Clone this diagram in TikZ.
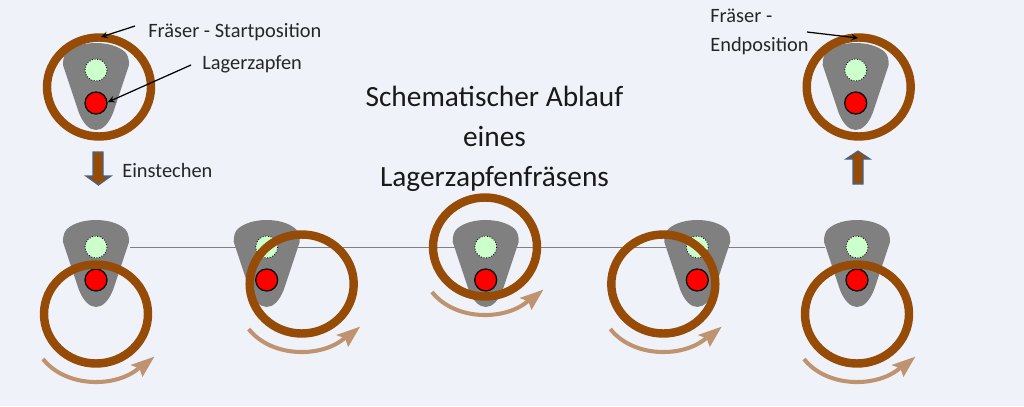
\documentclass[tikz,border=0pt]{standalone}
\usepackage{fontspec}
\setmainfont{Carlito}
\usepackage{tikz}
\definecolor{grund}{HTML}{EFF3F9}
\definecolor{ringbraun}{HTML}{964B06}
\definecolor{drehbraun}{HTML}{BF9270}
\definecolor{pfeilblau}{HTML}{44658F}
\tikzset{
	fraeser/.style={draw=ringbraun, line width=4.8pt},
	hebel/.style={fill=black!50},
	bohrung/.style={fill=green!20, draw=black, densely dotted, line width=0.5pt},
	zapfen/.style={fill=red, draw=black, line width=0.7pt},
	drehpfeil/.style={draw=drehbraun, line width=2.3pt},
	zeiger/.style={draw=black, line width=0.7pt, -stealth},
	hubpfeil/.style={fill=ringbraun, draw=pfeilblau, line width=0.7pt},
	beschriftung/.style={anchor=west, font=\fontsize{11.6}{13.6}\selectfont, text=black!85, inner sep=0pt},
	titel/.style={font=\fontsize{16.7}{20}\selectfont, text=black!90, inner sep=0pt}
}
\def\hebelform(#1,#2){\fill[hebel] (#1-29, #2-51) .. controls (#1-16, #2-63) and (#1+16, #2-63) .. (#1+29, #2-51) .. controls (#1+32, #2-48) and (#1+33, #2-44) .. (#1+33, #2-38) -- (#1+17, #2+10) .. controls (#1+13, #2+20) and (#1+7, #2+27) .. (#1, #2+27) .. controls (#1-7, #2+27) and (#1-13, #2+20) .. (#1-17, #2+10) -- (#1-33, #2-38) .. controls (#1-33, #2-44) and (#1-32, #2-48) .. (#1-29, #2-51) -- cycle;
	\draw[bohrung] (#1, #2-33) circle (11);
	\draw[zapfen] (#1, #2) circle (11);}
\def\drehung(#1,#2){\draw[drehpfeil] (#1-53, #2+45) .. controls (#1-30, #2+74) and (#1+20, #2+74) .. (#1+43, #2+54);
	\fill[drehbraun] (#1+58.3, #2+42.7) -- (#1+34.5, #2+51) -- (#1+43.3, #2+54.3) -- (#1+46.5, #2+63) -- cycle;}

\begin{document}
\begin{tikzpicture}[x=0.02cm, y=-0.02cm]
			%%%%% START %%%%%
			\fill[grund] (0, 0) rectangle (1024, 406);
			\useasboundingbox (0, 0) rectangle (1024, 406);
			
			\draw[black!50, line width=0.3pt] (130, 247) -- (825, 247);
			
			\hebelform(96, 103);
			\hebelform(855.7, 103);
			\hebelform(96, 280);
			\hebelform(266.7, 280);
			\hebelform(485.7, 280);
			\hebelform(697.3, 280);
			\hebelform(857, 280);
			
			\draw[fraeser] (99, 87) circle (52 and 49.5);
			\draw[fraeser] (858.7, 87) circle (52 and 49.5);
			\draw[fraeser] (96, 314) circle (52 and 49.5);
			\draw[fraeser] (301.7, 284) circle (52 and 49.5);
			\draw[fraeser] (485, 247) circle (52 and 49.5);
			\draw[fraeser] (663.3, 284) circle (52 and 49.5);
			\draw[fraeser] (857, 314) circle (52 and 49.5);
			
			\drehung(96, 314);
			\drehung(301.7, 284);
			\drehung(485, 247);
			\drehung(663.3, 284);
			\drehung(857, 314);
			
			% Hubpfeile
			\draw[hubpfeil] (93, 152) -- (103, 152) -- (103, 176) -- (111, 176) -- (98.5, 185) -- (86, 176) -- (93, 176) -- cycle;
			\draw[hubpfeil] (853, 184) -- (863, 184) -- (863, 159) -- (870, 159) -- (858, 151) -- (846, 159) -- (853, 159) -- cycle;
			
			\node[beschriftung] (start) at (148, 32) {Fräser - Startposition};
			\node[beschriftung] (lager) at (202, 64) {Lagerzapfen};
			\node[beschriftung] (einstechen) at (122, 170) {Einstechen};
			\node[beschriftung, align=left] (ende) at (710, 32) {Fräser -\\[3pt]Endposition};
			
			\node[titel] (titel1) at (494.5, 96) {Schematischer Ablauf};
			\node[titel] (titel2) at (494.5, 137) {eines};
			\node[titel] (titel3) at (494.5, 179) {Lagerzapfenfräsens};
			
			\coordinate (startfuss) at (135, 26);
			\coordinate (startring) at (101, 37);
			\coordinate (lagerfuss) at (191, 65);
			\coordinate (lagerziel) at (108, 102);
			\coordinate (endefuss) at (807, 32);
			\coordinate (endering) at (858, 38);
			\draw[zeiger] (startfuss) -- (startring);
			\draw[zeiger] (lagerfuss) -- (lagerziel);
			\draw[zeiger] (endefuss) -- (endering);
			%%%%% END %%%%%
		\end{tikzpicture}
\end{document}
